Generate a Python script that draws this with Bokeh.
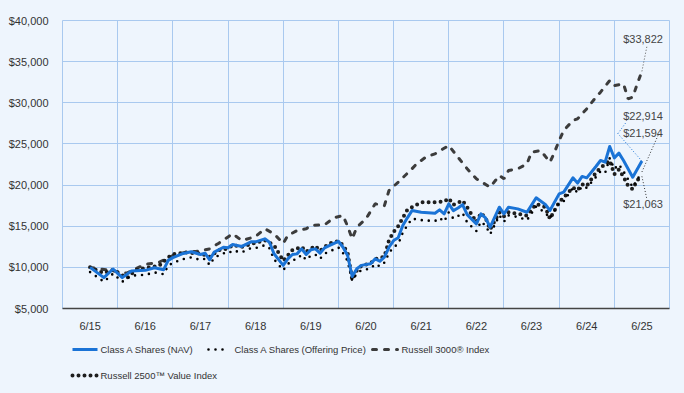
from bokeh.plotting import figure
from bokeh.layouts import column
from bokeh.models import (FixedTicker, SingleIntervalTicker, NumeralTickFormatter, Range1d, Label)
from bokeh.core.properties import value
from bokeh.embed import file_html
from bokeh.resources import INLINE

# ---------------- data (months since 6/2015, growth of $10,000) ----------------
year_labels = ["6/15", "6/16", "6/17", "6/18", "6/19", "6/20", "6/21", "6/22", "6/23", "6/24", "6/25"]
series_names = ["Class A Shares (NAV)", "Class A Shares (Offering Price)",
                "Russell 3000\u00ae Index", "Russell 2500\u2122 Value Index"]

nav_months = [0, 3, 5, 7, 9, 12, 14, 16, 17, 18, 20, 22, 24, 25, 26, 27, 29, 30, 31, 33, 35, 36, 38, 39, 40,
              42, 43, 44, 45, 46, 47, 48, 49, 50, 51, 52, 54, 55, 56, 57, 58, 59, 61, 62, 63, 64, 65, 66, 67,
              68, 69, 70, 72, 75, 76, 77, 78, 79, 80, 81, 82, 84, 85, 86, 87, 89, 90, 91, 93, 95, 97, 99, 100,
              102, 103, 105, 106, 107, 108, 110, 111, 112, 113, 114, 115, 116, 118, 120]
nav_values = [10000, 8750, 9800, 8750, 9550, 9640, 9960, 9720, 10850, 11180, 11650, 11900, 11560, 11720, 10920,
              11860, 12440, 12380, 12780, 12540, 13100, 13100, 13470, 13060, 11650, 10240, 11030, 11560, 11640,
              12250, 11560, 12130, 12250, 11720, 12370, 12650, 13170, 12440, 11440, 8890, 9830, 10240, 10440,
              11030, 10740, 11230, 12440, 13260, 13590, 15090, 16020, 16900, 16700, 16580, 16990, 16500, 17720,
              16900, 17220, 17620, 16410, 15290, 16500, 16000, 14880, 17310, 16500, 17310, 17110, 16700, 18450,
              17640, 16910, 18930, 19140, 20880, 20240, 21050, 20880, 22260, 22990, 22780, 24690, 23310, 23880,
              22990, 20960, 22914]
offer_values = [9425, 8250, 9235, 8250, 9000, 9085, 9385, 9160, 10225, 10535, 10980, 11215, 10895, 11045, 10290,
                11175, 11725, 11665, 12045, 11820, 12345, 12345, 12695, 12310, 10980, 9650, 10395, 10895, 10970,
                11545, 10895, 11430, 11545, 11045, 11660, 11920, 12410, 11725, 10780, 8380, 9265, 9650, 9840,
                10395, 10120, 10585, 11725, 12495, 12805, 14220, 15100, 15925, 15740, 15625, 16010, 15550, 16700,
                15925, 16230, 16605, 15465, 14410, 15550, 15080, 14025, 16315, 15550, 16315, 16125, 15740, 17385,
                16625, 15935, 17840, 18035, 19675, 19075, 19835, 19675, 20975, 21665, 21465, 23265, 21965, 22505,
                21665, 19750, 21594]

r3000_months = [0, 8, 10, 12, 15, 18, 21, 23, 26, 28, 31, 33, 36, 38, 40, 42, 43, 45, 47, 48, 51, 53, 55, 56,
                57, 58, 60, 62, 64, 65, 67, 70, 71, 73, 75, 78, 80, 82, 84, 87, 89, 90, 91, 93, 95, 96, 98, 100,
                101, 102, 103, 105, 106, 108, 110, 111, 113, 114, 116, 117, 118, 119, 120]
r3000_values = [10000, 9300, 9860, 10350, 10630, 11440, 11860, 11930, 12250, 12940, 14080, 13260, 13750, 14690,
                14080, 12900, 13870, 14480, 14690, 15090, 15170, 16020, 16300, 15000, 13470, 14880, 15900, 17720,
                17500, 19340, 20350, 21980, 22580, 23390, 23800, 24810, 23390, 21980, 20760, 19740, 21160, 20760,
                21770, 21980, 22580, 24000, 24200, 22780, 24000, 25420, 26630, 27850, 28050, 29270, 30680, 31290,
                32710, 32100, 32300, 30480, 30680, 32300, 33822]

r2500v_months = [0, 3, 5, 8, 10, 12, 15, 17, 18, 21, 24, 26, 28, 30, 31, 33, 36, 38, 40, 42, 44, 46, 47, 49, 50,
                 52, 54, 55, 56, 57, 58, 59, 61, 62, 64, 65, 66, 67, 69, 70, 72, 75, 77, 78, 79, 81, 82, 84, 85,
                 86, 87, 89, 90, 91, 93, 95, 97, 99, 100, 102, 103, 105, 106, 107, 108, 110, 111, 113, 114, 115,
                 116, 117, 118, 119, 120]
r2500v_values = [10000, 9300, 9700, 8700, 9700, 9900, 10200, 11200, 11600, 11800, 11700, 11300, 12100, 12300,
                 12700, 12500, 13000, 13300, 12700, 10800, 12100, 12500, 11900, 12600, 12000, 12900, 13200, 12700,
                 11800, 8500, 9600, 10200, 10500, 11000, 11300, 13300, 14300, 15000, 17000, 17300, 17900, 17900,
                 18000, 18400, 17600, 18100, 17300, 15500, 16600, 16000, 14600, 16700, 16200, 16700, 16500, 16300,
                 17700, 17300, 15900, 17900, 18500, 19700, 19400, 20100, 19900, 21500, 22100, 23000, 21300, 21900,
                 21000, 19900, 19500, 20600, 21063]

# ---------------- styling ----------------
BG = "#EEF5FD"
GRID = "#A9C9EF"
BLUE = "#1A73D6"
FONT = "'Liberation Sans', Arial, sans-serif"

styles = [
    dict(line_color=BLUE, line_width=3, line_join="round"),
    dict(line_color="#000000", line_width=2.6, line_dash="0 7", line_cap="round"),
    dict(line_color="#3C3C3C", line_width=3, line_dash="4 8", line_cap="round"),
    dict(line_color="#1E1E1E", line_width=4, line_dash="0 6", line_cap="round"),
]

W, H = 684, 340
ML, MR, MT, MB = 62, 15, 20, 32

p = figure(width=W, height=H, output_backend="svg", toolbar_location=None,
           x_range=Range1d(-0.5, 10.5), y_range=Range1d(5000, 40000),
           min_border_left=ML, min_border_right=MR, min_border_top=MT, min_border_bottom=MB)
p.background_fill_color = BG
p.border_fill_color = BG
p.outline_line_color = GRID
p.outline_line_width = 1

# axes
p.xaxis.ticker = FixedTicker(ticks=list(range(len(year_labels))))
p.xaxis.major_label_overrides = {i: t for i, t in enumerate(year_labels)}
p.xaxis.axis_line_color = "#444444"
p.xaxis.axis_line_width = 1.5
p.xaxis.major_tick_line_color = None
p.xaxis.minor_tick_line_color = None
p.xaxis.major_tick_out = 0
p.xaxis.major_label_standoff = 11
p.yaxis.ticker = SingleIntervalTicker(interval=5000)
p.yaxis.formatter = NumeralTickFormatter(format="$0,0")
p.yaxis.axis_line_color = None
p.yaxis.major_tick_line_color = None
p.yaxis.minor_tick_line_color = None
p.yaxis.major_tick_out = 0
p.yaxis.major_label_standoff = 10
for ax in (p.xaxis, p.yaxis):
    ax.major_label_text_font = FONT
    ax.major_label_text_font_size = "11px"
    ax.major_label_text_color = "#333333"

p.xgrid.ticker = FixedTicker(ticks=[i + 0.5 for i in range(len(year_labels) - 1)])
p.xgrid.grid_line_color = GRID
p.ygrid.grid_line_color = GRID

def yrs(months):
    return [m / 12.0 for m in months]

# draw order: indices behind, fund on top
p.line(yrs(r3000_months), r3000_values, **styles[2])
p.line(yrs(r2500v_months), r2500v_values, **styles[3])
p.line(yrs(nav_months), offer_values, **styles[1])
p.line(yrs(nav_months), nav_values, **styles[0])

# ---------------- end-value labels with leader lines ----------------
frame_w = W - ML - MR
frame_h = H - MT - MB
px_x = frame_w / 11.0          # px per year
px_y = frame_h / 35000.0       # px per dollar
x_end = nav_months[-1] / 12.0

def off(val, dx, dy):
    return x_end + dx / px_x, val + dy / px_y

ends = [
    (r3000_values[-1], 32, [(0, 0, 5, 25)], "#555555"),
    (nav_values[-1], 45.5, [(0, 0, -24, 27.5), (-24, 27.5, -16, 38.5)], BLUE),
    (offer_values[-1], 38.5, [(0, 0, 17, 38.5)], "#333333"),
    (r2500v_values[-1], -28, [(0, 0, 5, -23)], "#333333"),
]
for val, yoff, segs, col in ends:
    p.add_layout(Label(x=x_end, y=val, x_offset=21, y_offset=yoff, text="${:,.0f}".format(val),
                       text_align="right", text_baseline="middle", text_font=FONT,
                       text_font_size="11px", text_color="#444444"))
    for (dx0, dy0, dx1, dy1) in segs:
        x0, y0 = off(val, dx0, dy0)
        x1, y1 = off(val, dx1, dy1)
        p.segment(x0=[x0], y0=[y0], x1=[x1], y1=[y1], line_color=col, line_width=1, line_dash="1 2")

# ---------------- legend strip (separate figure, x in page pixels) ----------------
# its frame is aligned with the chart frame by the column layout (ML .. W-MR)
LH = 53
lg = figure(width=W, height=LH, output_backend="svg", toolbar_location=None,
            x_range=Range1d(ML, W - MR), y_range=Range1d(LH, 0),
            x_axis_type=None, y_axis_type=None,
            min_border_left=ML, min_border_right=MR, min_border_top=0, min_border_bottom=0)
lg.background_fill_color = BG
lg.border_fill_color = BG
lg.outline_line_color = None
lg.xgrid.visible = False
lg.ygrid.visible = False

# (swatch start x, swatch end x, text x, row y) for each legend entry
legend_slots = [(72, 97, 100, 9), (208, 229, 234, 9), (372, 397, 401, 9), (72, 97, 100, 35)]
for name, sty, (sx0, sx1, tx, ty) in zip(series_names, styles, legend_slots):
    lg.line([sx0, sx1], [ty, ty], **sty)
    lg.text(x=[tx], y=[ty], text=[name], text_font=value(FONT), text_font_size="9.5px",
            text_color="#333333", text_baseline="middle", text_align="left")

layout = column(p, lg, spacing=0, styles={"background-color": BG})
open("out.html", "w").write(file_html(layout, INLINE))
